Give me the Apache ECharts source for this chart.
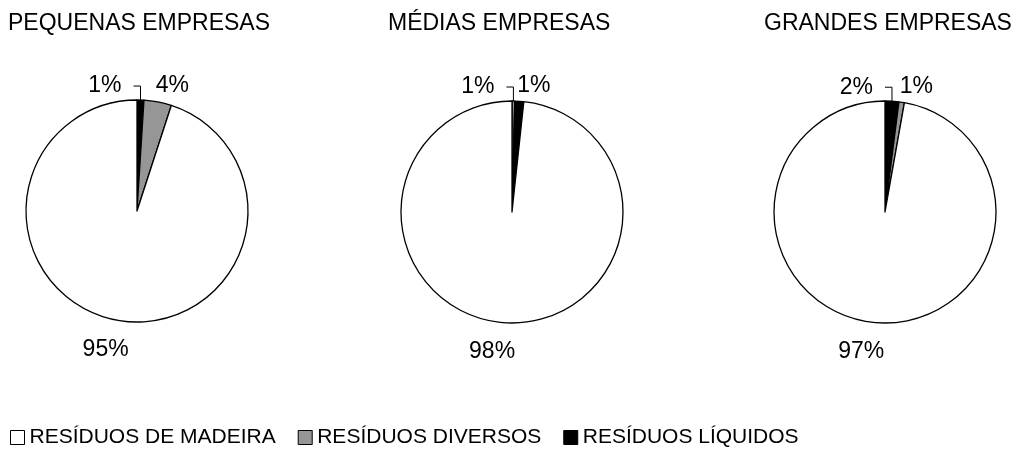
<!DOCTYPE html>
<html>
<head>
<meta charset="utf-8">
<script src="https://cdn.jsdelivr.net/npm/echarts@6/dist/echarts.min.js"></script>
<style>
  html, body { margin: 0; padding: 0; background: #fff; }
  #chart { width: 1025px; height: 452px; }
</style>
</head>
<body>
<div id="chart"></div>
<script>
// residue types, in legend order
const categories = ['RESÍDUOS DE MADEIRA', 'RESÍDUOS DIVERSOS', 'RESÍDUOS LÍQUIDOS'];
const companies = ['PEQUENAS EMPRESAS', 'MÉDIAS EMPRESAS', 'GRANDES EMPRESAS'];

// share of each residue type (%), same order as categories
const pequenas = [95, 4, 1];
const medias = [98.3, 0.4, 1.3];
const grandes = [97.2, 0.8, 2];

// order in which slices appear clockwise from 12 o'clock (indices into categories)
const sliceOrder = [[2, 1, 0], [1, 2, 0], [2, 1, 0]];

const colors = ['#ffffff', '#969696', '#000000'];
const font = '"Liberation Sans", Arial, sans-serif';

const values = [pequenas, medias, grandes];
const centers = [[137, 211], [512, 212], [885, 212]];
const titleLeft = [8, 388, 764];

// first slice: label to the left with an elbow line, second: label to the right, big one: below
function placeLabel(params) {
  const pts = params.labelLinePoints;
  if (!pts) return;
  const e = pts[0];
  if (params.dataIndex === 0) {
    const top = e[1] - 14;
    return {
      x: e[0] - 19, y: top, align: 'right', verticalAlign: 'middle',
      labelLinePoints: [e, [e[0], top], [e[0] - 7, top]]
    };
  }
  if (params.dataIndex === 1) {
    return {
      x: e[0] - 2, y: e[1] - 16, align: 'left', verticalAlign: 'middle',
      labelLinePoints: [e, e, e]
    };
  }
  return {
    x: e[0] - 14, y: e[1] + 29, align: 'center', verticalAlign: 'middle',
    labelLinePoints: [e, e, e]
  };
}

const series = values.map(function (vals, i) {
  return {
    type: 'pie',
    name: companies[i],
    center: centers[i],
    radius: 111,
    startAngle: 90,
    clockwise: true,
    percentPrecision: 0,
    animation: false,
    avoidLabelOverlap: false,
    itemStyle: { borderColor: '#000', borderWidth: 1.3 },
    label: {
      show: true,
      position: 'outside',
      formatter: '{d}%',
      color: '#000',
      fontSize: 23,
      fontFamily: font
    },
    labelLine: {
      show: true,
      length: 10,
      length2: 8,
      lineStyle: { color: '#000', width: 1 }
    },
    emphasis: { disabled: true },
    labelLayout: placeLabel,
    data: sliceOrder[i].map(function (k) {
      return { name: categories[k], value: vals[k], itemStyle: { color: colors[k] } };
    })
  };
});

const chart = echarts.init(document.getElementById('chart'));
chart.setOption({
  backgroundColor: '#fff',
  title: companies.map(function (c, i) {
    return {
      text: c,
      left: titleLeft[i],
      top: 12,
      padding: 0,
      textStyle: { fontSize: 23, fontWeight: 'normal', color: '#000', fontFamily: font }
    };
  }),
  legend: {
    data: categories,
    left: 10,
    top: 427,
    icon: 'rect',
    itemWidth: 14,
    itemHeight: 14,
    itemGap: 22,
    padding: 0,
    itemStyle: { borderColor: '#000', borderWidth: 1 },
    textStyle: { fontSize: 21, color: '#000', fontFamily: font },
    selectedMode: false
  },
  series: series
});
</script>
</body>
</html>
